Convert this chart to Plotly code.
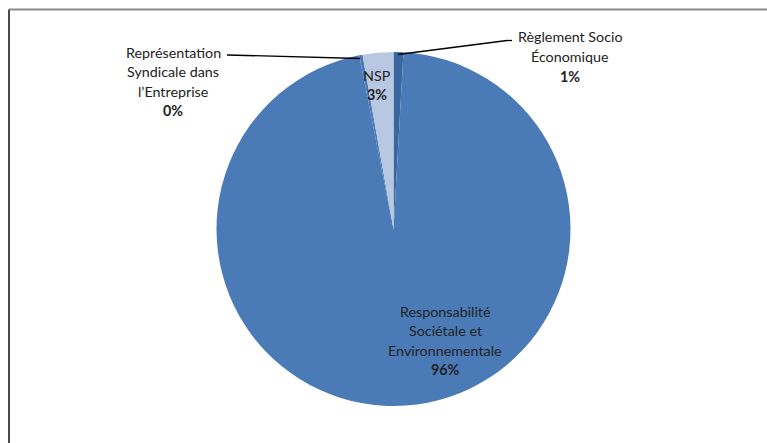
import plotly.graph_objects as go

# Data (clockwise from 12 o'clock)
labels = ["Règlement Socio<br>Économique",
          "Responsabilité<br>Sociétale et<br>Environnementale",
          "Représentation<br>Syndicale dans<br>l’Entreprise",
          "NSP"]
values = [0.9, 96.0, 0.3, 2.8]
pct_text = ["1%", "96%", "0%", "3%"]
colors = ["#3b67a0", "#4a7bb7", "#4a7bb7", "#b8c8e2"]

W, H = 767, 443

def px(x):
    return x / W

def py(y):
    return 1 - y / H

# label centre positions (pixels) and per-line spacing
label_pos = [(570, 37), (445, 311), (173, 52), (377, 75)]
line_gap = 19.5

fig = go.Figure()
fig.add_trace(go.Pie(
    labels=labels, values=values, sort=False, direction="clockwise",
    rotation=0, marker=dict(colors=colors, line=dict(width=0)),
    textinfo="none", hoverinfo="skip", showlegend=False,
    domain=dict(x=[px(393.5 - 177), px(393.5 + 177)],
                y=[py(229 + 177), py(229 - 177)]),
))

annotations = []
for lab, pct, (cx, cy) in zip(labels, pct_text, label_pos):
    lines = lab.split("<br>") + ["<b>" + pct + "</b>"]
    for i, ln in enumerate(lines):
        annotations.append(dict(
            x=px(cx), y=py(cy + i * line_gap), xref="paper", yref="paper",
            text=ln, showarrow=False, xanchor="center", yanchor="middle",
            font=dict(family="Lato", size=14.3, color="#222222")))

shapes = [
    # leader lines
    dict(type="line", xref="paper", yref="paper",
         x0=px(227), y0=py(55), x1=px(360), y1=py(58.5),
         line=dict(color="#000000", width=1.3)),
    dict(type="line", xref="paper", yref="paper",
         x0=px(398), y0=py(54.5), x1=px(507), y1=py(40.5),
         line=dict(color="#000000", width=1.3)),
    dict(type="line", xref="paper", yref="paper",
         x0=px(507), y0=py(40.5), x1=px(512), y1=py(40.5),
         line=dict(color="#000000", width=1.3)),
    # chart frame (top and left)
    dict(type="line", xref="paper", yref="paper",
         x0=px(9), y0=py(9.5), x1=1.05, y1=py(9.5),
         line=dict(color="#8a8a8a", width=2)),
    dict(type="line", xref="paper", yref="paper",
         x0=px(9), y0=py(9.5), x1=px(9), y1=-0.05,
         line=dict(color="#4a4a4a", width=2)),
]

fig.update_layout(
    width=W, height=H, margin=dict(l=0, r=0, t=0, b=0),
    paper_bgcolor="white", plot_bgcolor="white",
    annotations=annotations, shapes=shapes,
)

fig.write_html("out.html")
